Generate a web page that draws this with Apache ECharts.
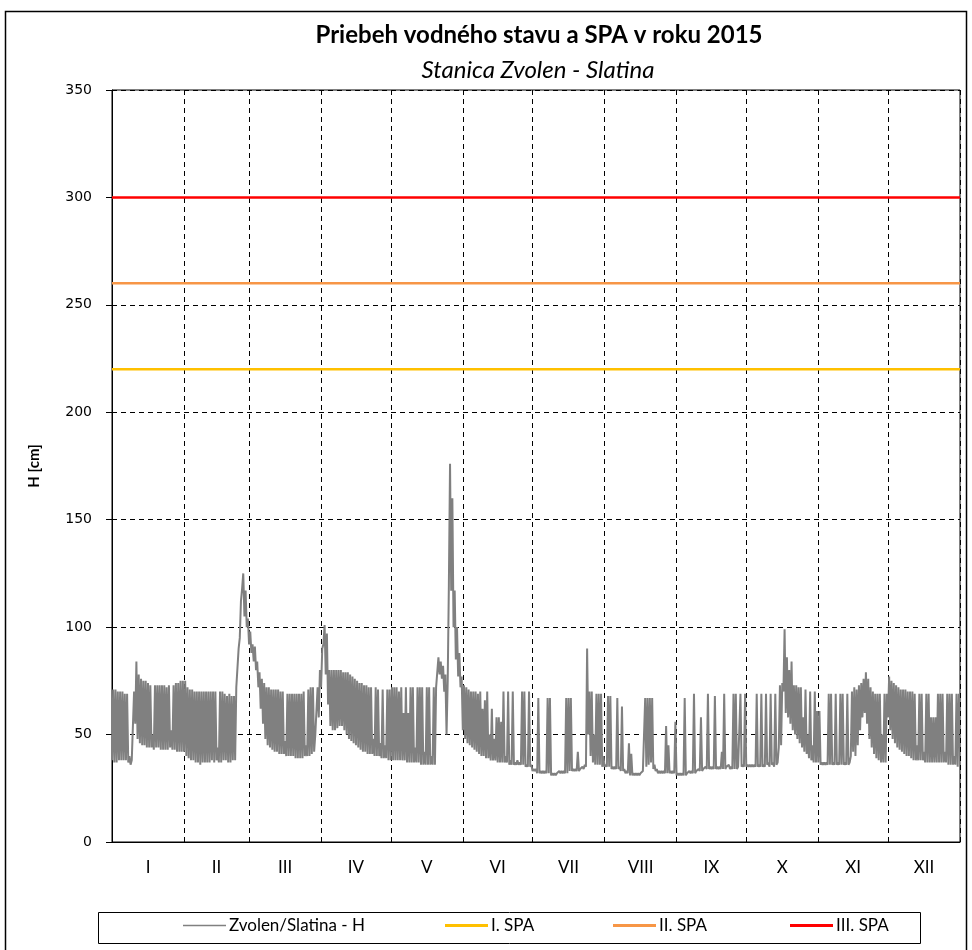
<!DOCTYPE html>
<html>
<head>
<meta charset="utf-8">
<script src="https://cdn.jsdelivr.net/npm/echarts@6/dist/echarts.min.js"></script>
<style>
  html, body { margin: 0; padding: 0; background: #fff; }
  #chart { width: 972px; height: 950px; }
</style>
</head>
<body>
<div id="chart"></div>
<script>
// ---- data ----
const monthLabels = ['I','II','III','IV','V','VI','VII','VIII','IX','X','XI','XII'];
const monthDays = [31,28,31,30,31,30,31,31,30,31,30,31];
const yTicks = [0,50,100,150,200,250,300,350];
const spaNames = ['I. SPA','II. SPA','III. SPA'];
const spaLevels = [220, 260, 300];
const seriesName = 'Zvolen/Slatina - H';

// daily [low, high] water level in cm, per month
const jan = [[38,71],[37,71],[37,70],[38,70],[38,70],[38,69],[38,69],[37,40],[36,38],[38,70],
  [55,84],[48,78],[46,76],[45,75],[45,75],[44,74],[44,73],[44,50],[43,73],[44,73],
  [44,73],[43,73],[43,73],[43,72],[43,73],[44,52],[43,73],[43,74],[42,74],[42,75],[42,75]];
const feb = [[42,75],[40,72],[39,71],[38,71],[38,70],[37,70],[37,70],[36,70],[37,70],[37,70],
  [37,70],[37,70],[38,70],[37,70],[38,44],[37,70],[37,70],[38,69],[38,68],[37,69],
  [37,68],[38,68],[38,72],[72,90],[95,112],[118,125],[105,117],[100,104]];
const mar = [[92,98],[88,92],[84,91],[80,84],[72,79],[62,76],[55,74],[48,72],[45,72],[44,71],
  [43,71],[42,71],[42,71],[41,70],[41,70],[41,47],[40,69],[40,69],[40,69],[40,69],
  [39,69],[39,69],[39,69],[39,70],[40,45],[40,71],[40,72],[41,72],[42,50],[50,72],[58,80]];
const apr = [[72,90],[92,101],[78,97],[64,80],[54,80],[52,80],[52,80],[53,80],[54,80],[54,79],
  [52,79],[50,79],[48,78],[47,77],[46,76],[45,75],[44,74],[43,74],[42,73],[42,73],
  [41,72],[41,72],[41,48],[40,72],[40,71],[40,46],[39,71],[39,45],[39,71],[38,71]];
const may = [[38,72],[38,72],[38,72],[38,70],[38,72],[38,60],[38,72],[37,60],[37,72],[37,72],
  [37,44],[37,72],[37,72],[36,72],[36,42],[36,72],[36,72],[36,40],[36,72],[36,72],
  [72,86],[78,84],[76,82],[70,78],[50,75],[120,176],[117,160],[100,117],[85,100],[77,88],[72,77]];
const jun = [[52,73],[48,72],[46,71],[45,70],[44,70],[43,70],[42,69],[41,70],[40,62],[40,66],
  [39,70],[39,50],[38,62],[38,48],[38,58],[37,58],[37,56],[37,70],[37,40],[37,70],
  [36,38],[36,70],[36,37],[36,38],[36,37],[36,70],[36,70],[35,36],[35,70],[35,36]];
const jul = [[33,34],[33,34],[32,67],[32,33],[32,33],[32,33],[32,67],[32,67],[31,32],[31,32],
  [31,32],[32,33],[32,33],[32,33],[32,67],[32,67],[33,67],[33,34],[33,34],[33,42],
  [33,34],[34,35],[34,36],[35,90],[50,70],[40,70],[37,50],[36,69],[36,69],[36,69],[35,40]];
const aug = [[35,36],[35,68],[35,68],[34,35],[34,35],[34,67],[34,35],[33,63],[33,34],[32,33],
  [32,46],[31,41],[31,32],[31,32],[31,32],[31,32],[32,33],[33,67],[35,67],[36,67],
  [37,67],[34,36],[33,34],[32,33],[32,33],[32,33],[32,54],[32,45],[32,33],[32,33],[32,56]];
const sep = [[31,32],[31,32],[31,32],[31,67],[31,32],[32,33],[32,33],[32,69],[32,33],[33,34],
  [33,58],[33,34],[34,35],[34,69],[34,35],[34,35],[34,68],[34,35],[34,35],[34,42],
  [34,69],[34,35],[35,36],[34,35],[34,69],[34,69],[34,35],[35,69],[35,36],[35,69]];
const oct = [[35,36],[35,36],[35,36],[35,36],[35,69],[35,36],[35,69],[35,36],[35,69],[36,37],
  [35,69],[36,37],[35,69],[36,37],[44,73],[45,74],[70,99],[60,86],[58,80],[55,84],
  [52,73],[50,73],[48,72],[46,72],[44,58],[42,71],[41,50],[39,70],[38,45],[37,70],[37,61]];
const nov = [[37,61],[36,37],[36,37],[36,37],[36,69],[36,69],[36,37],[36,69],[36,37],[36,69],
  [36,69],[36,37],[36,69],[36,37],[40,70],[42,72],[40,71],[45,73],[52,74],[58,76],
  [60,79],[55,76],[48,72],[44,70],[41,69],[39,69],[38,69],[37,50],[37,69],[37,69]];
const dec = [[58,77],[52,75],[48,74],[46,73],[44,72],[43,71],[42,71],[41,71],[40,70],[40,70],
  [39,70],[38,69],[38,45],[38,69],[38,69],[38,42],[37,69],[37,69],[37,58],[37,58],
  [37,58],[37,69],[37,69],[37,69],[37,42],[37,69],[36,69],[36,69],[36,40],[36,69],[35,69]];

// ---- build ----
const months = [jan, feb, mar, apr, may, jun, jul, aug, sep, oct, nov, dec];
const level = [];
let day = 0;
months.forEach(m => m.forEach(([lo, hi]) => {
  level.push([day, lo]);
  level.push([day + 0.5, hi]);
  day++;
}));
const yearDays = monthDays.reduce((a, b) => a + b, 0);
const monthStarts = [0];
monthDays.forEach(n => monthStarts.push(monthStarts[monthStarts.length - 1] + n));
const monthMids = monthDays.map((n, i) => monthStarts[i] + n / 2);

const spaColors = ['#FFC000', '#F79646', '#FF0000'];
const series = [{
  name: seriesName, type: 'line', data: level, showSymbol: false, symbol: 'none',
  lineStyle: { color: '#808080', width: 2 }, itemStyle: { color: '#808080' },
  animation: false, z: 3
}];
spaLevels.forEach((v, i) => series.push({
  name: spaNames[i], type: 'line', data: [[0, v], [yearDays, v]], showSymbol: false, symbol: 'none',
  lineStyle: { color: spaColors[i], width: 2.5 }, itemStyle: { color: spaColors[i] },
  animation: false, z: 4
}));

const legendLefts = [183, 445, 613, 790];
const legends = [seriesName].concat(spaNames).map((n, i) => ({
  data: [n], left: legendLefts[i], top: 917, icon: 'rect',
  itemWidth: 43, itemHeight: i === 0 ? 1.5 : 3, itemGap: 4, padding: 0,
  textStyle: { fontFamily: 'Lato', fontSize: 17, color: '#000', padding: [0, 0, 0, -2] }
}));

const chart = echarts.init(document.getElementById('chart'), null, { renderer: 'canvas' });
chart.setOption({
  backgroundColor: '#fff',
  animation: false,
  title: [
    { text: 'Priebeh vodného stavu a SPA v roku 2015', left: 534, top: 18, textAlign: 'center',
      textStyle: { fontFamily: 'Lato', fontWeight: 'bold', fontSize: 24, color: '#000' } },
    { text: 'Stanica Zvolen - Slatina', left: 533, top: 53, textAlign: 'center',
      textStyle: { fontFamily: 'Lato', fontStyle: 'italic', fontWeight: 'normal', fontSize: 24, color: '#000' } }
  ],
  legend: legends,
  grid: { left: 112, right: 12, top: 90, bottom: 108, show: true, borderColor: '#000', borderWidth: 1 },
  xAxis: {
    type: 'value', min: 0, max: yearDays,
    axisLine: { show: true, lineStyle: { color: '#000', width: 1 } },
    axisTick: { show: true, customValues: monthStarts, length: 0 },
    splitLine: { show: true, lineStyle: { color: '#000', type: [5, 4], width: 1 } },
    axisLabel: {
      customValues: monthMids, margin: 17,
      fontFamily: 'Lato', fontSize: 17, color: '#000',
      formatter: v => monthLabels[monthMids.indexOf(v)] || ''
    }
  },
  yAxis: {
    type: 'value', min: yTicks[0], max: yTicks[yTicks.length - 1], interval: 50,
    name: 'H [cm]', nameLocation: 'middle', nameGap: 70, nameRotate: 90,
    nameTextStyle: { fontFamily: 'Lato', fontWeight: 'bold', fontSize: 15, color: '#000' },
    axisLine: { show: true, lineStyle: { color: '#000', width: 1 } },
    axisTick: { show: true, length: 6, lineStyle: { color: '#000' } },
    splitLine: { show: true, lineStyle: { color: '#000', type: [5, 4], width: 1 } },
    axisLabel: { margin: 20, fontFamily: 'DejaVu Sans', fontSize: 14, color: '#000' }
  },
  graphic: [
    { type: 'rect', shape: { x: 5.5, y: 11.5, width: 961, height: 960 },
      style: { fill: 'none', stroke: '#000', lineWidth: 1.5 }, z: -1, silent: true },
    { type: 'rect', shape: { x: 98.5, y: 912.5, width: 822, height: 31 },
      style: { fill: 'none', stroke: '#000', lineWidth: 1 }, z: -1, silent: true }
  ],
  series: series
});
</script>
</body>
</html>
